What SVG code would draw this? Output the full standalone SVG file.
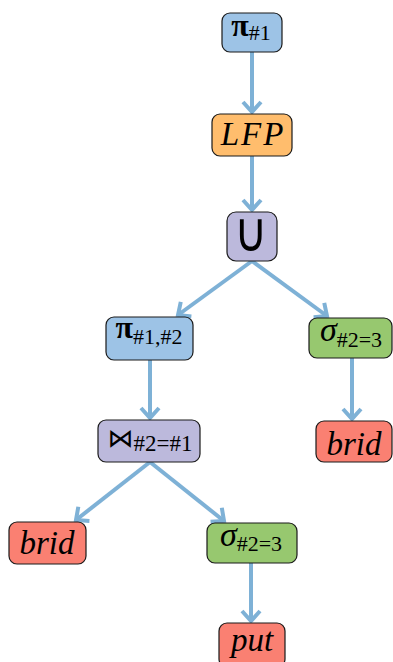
<svg xmlns="http://www.w3.org/2000/svg" width="393" height="662" viewBox="0 0 393 662">
<style>
.n{stroke:#1a1a1a;stroke-width:1.2}
.blue{fill:#9dc3e6}.orange{fill:#ffbd6d}.purple{fill:#bcb9dc}.green{fill:#97c86f}.red{fill:#fa8072}
text{font-family:'Liberation Serif','Times New Roman',serif;fill:#000;text-anchor:middle}
.m{font-size:33px;font-style:italic}
.g{font-size:34px;font-style:italic}
.p{font-size:32px;font-weight:bold}
.s{font-size:22px}
.e{stroke:#7eb1d6;stroke-width:4;fill:none;marker-end:url(#a)}
</style>
<defs>
<marker id="a" markerUnits="userSpaceOnUse" markerWidth="24" markerHeight="24" refX="12" refY="12" orient="auto" viewBox="0 0 24 24">
<path d="M2,3 L12,12 L2,21" fill="none" stroke="#7eb1d6" stroke-width="4"/>
</marker>
</defs>
<g id="connectors">
<line class="e" x1="252" y1="52" x2="252" y2="112"/>
<line class="e" x1="252" y1="156" x2="252" y2="210"/>
<line class="e" x1="252" y1="261" x2="178" y2="315"/>
<line class="e" x1="252" y1="261" x2="327" y2="316"/>
<line class="e" x1="352" y1="358" x2="352" y2="419"/>
<line class="e" x1="150" y1="360" x2="150" y2="418"/>
<line class="e" x1="150" y1="462" x2="76" y2="520"/>
<line class="e" x1="150" y1="462" x2="224" y2="521"/>
<line class="e" x1="251" y1="563" x2="251" y2="621"/>
</g>
<g id="pi1">
<rect class="n blue" x="222" y="13" width="60" height="39" rx="8"/>
<text x="251" y="36"><tspan class="p">π</tspan><tspan class="s" dy="4">#1</tspan></text>
</g>
<g id="lfp">
<rect class="n orange" x="212" y="114" width="80" height="42" rx="8"/>
<text class="m" x="253" y="145" letter-spacing="2">LFP</text>
</g>
<g id="union">
<rect class="n purple" x="227" y="212" width="50" height="49" rx="9"/>
<g transform="translate(251,251) scale(1,1.2)"><text x="0" y="0" font-size="46" font-family="'Noto Sans CJK SC','DejaVu Sans',sans-serif" font-weight="300">∪</text></g>
</g>
<g id="pi12">
<rect class="n blue" x="106" y="317" width="87" height="43" rx="8"/>
<text x="149" y="338"><tspan class="p">π</tspan><tspan class="s" dy="6">#1,#2</tspan></text>
</g>
<g id="sigma1">
<rect class="n green" x="309" y="318" width="83" height="40" rx="8"/>
<text x="351" y="341"><tspan class="g">σ</tspan><tspan class="s" dy="6">#2=3</tspan></text>
</g>
<g id="brid1">
<rect class="n red" x="316" y="421" width="76" height="41" rx="8"/>
<text class="m" x="354" y="455">brid</text>
</g>
<g id="join">
<rect class="n purple" x="98" y="420" width="102" height="42" rx="8"/>
<text x="150" y="447"><tspan font-size="26" font-family="'DejaVu Sans',sans-serif">⋈</tspan><tspan font-size="23" dy="4">#2=#1</tspan></text>
</g>
<g id="brid2">
<rect class="n red" x="9" y="522" width="77" height="42" rx="8"/>
<text class="m" x="47" y="554">brid</text>
</g>
<g id="sigma2">
<rect class="n green" x="207" y="523" width="90" height="40" rx="8"/>
<text x="251" y="546"><tspan class="g">σ</tspan><tspan class="s" dy="5">#2=3</tspan></text>
</g>
<g id="put">
<rect class="n red" x="219" y="623" width="66" height="44" rx="8"/>
<text class="m" x="252" y="651">put</text>
</g>
</svg>
